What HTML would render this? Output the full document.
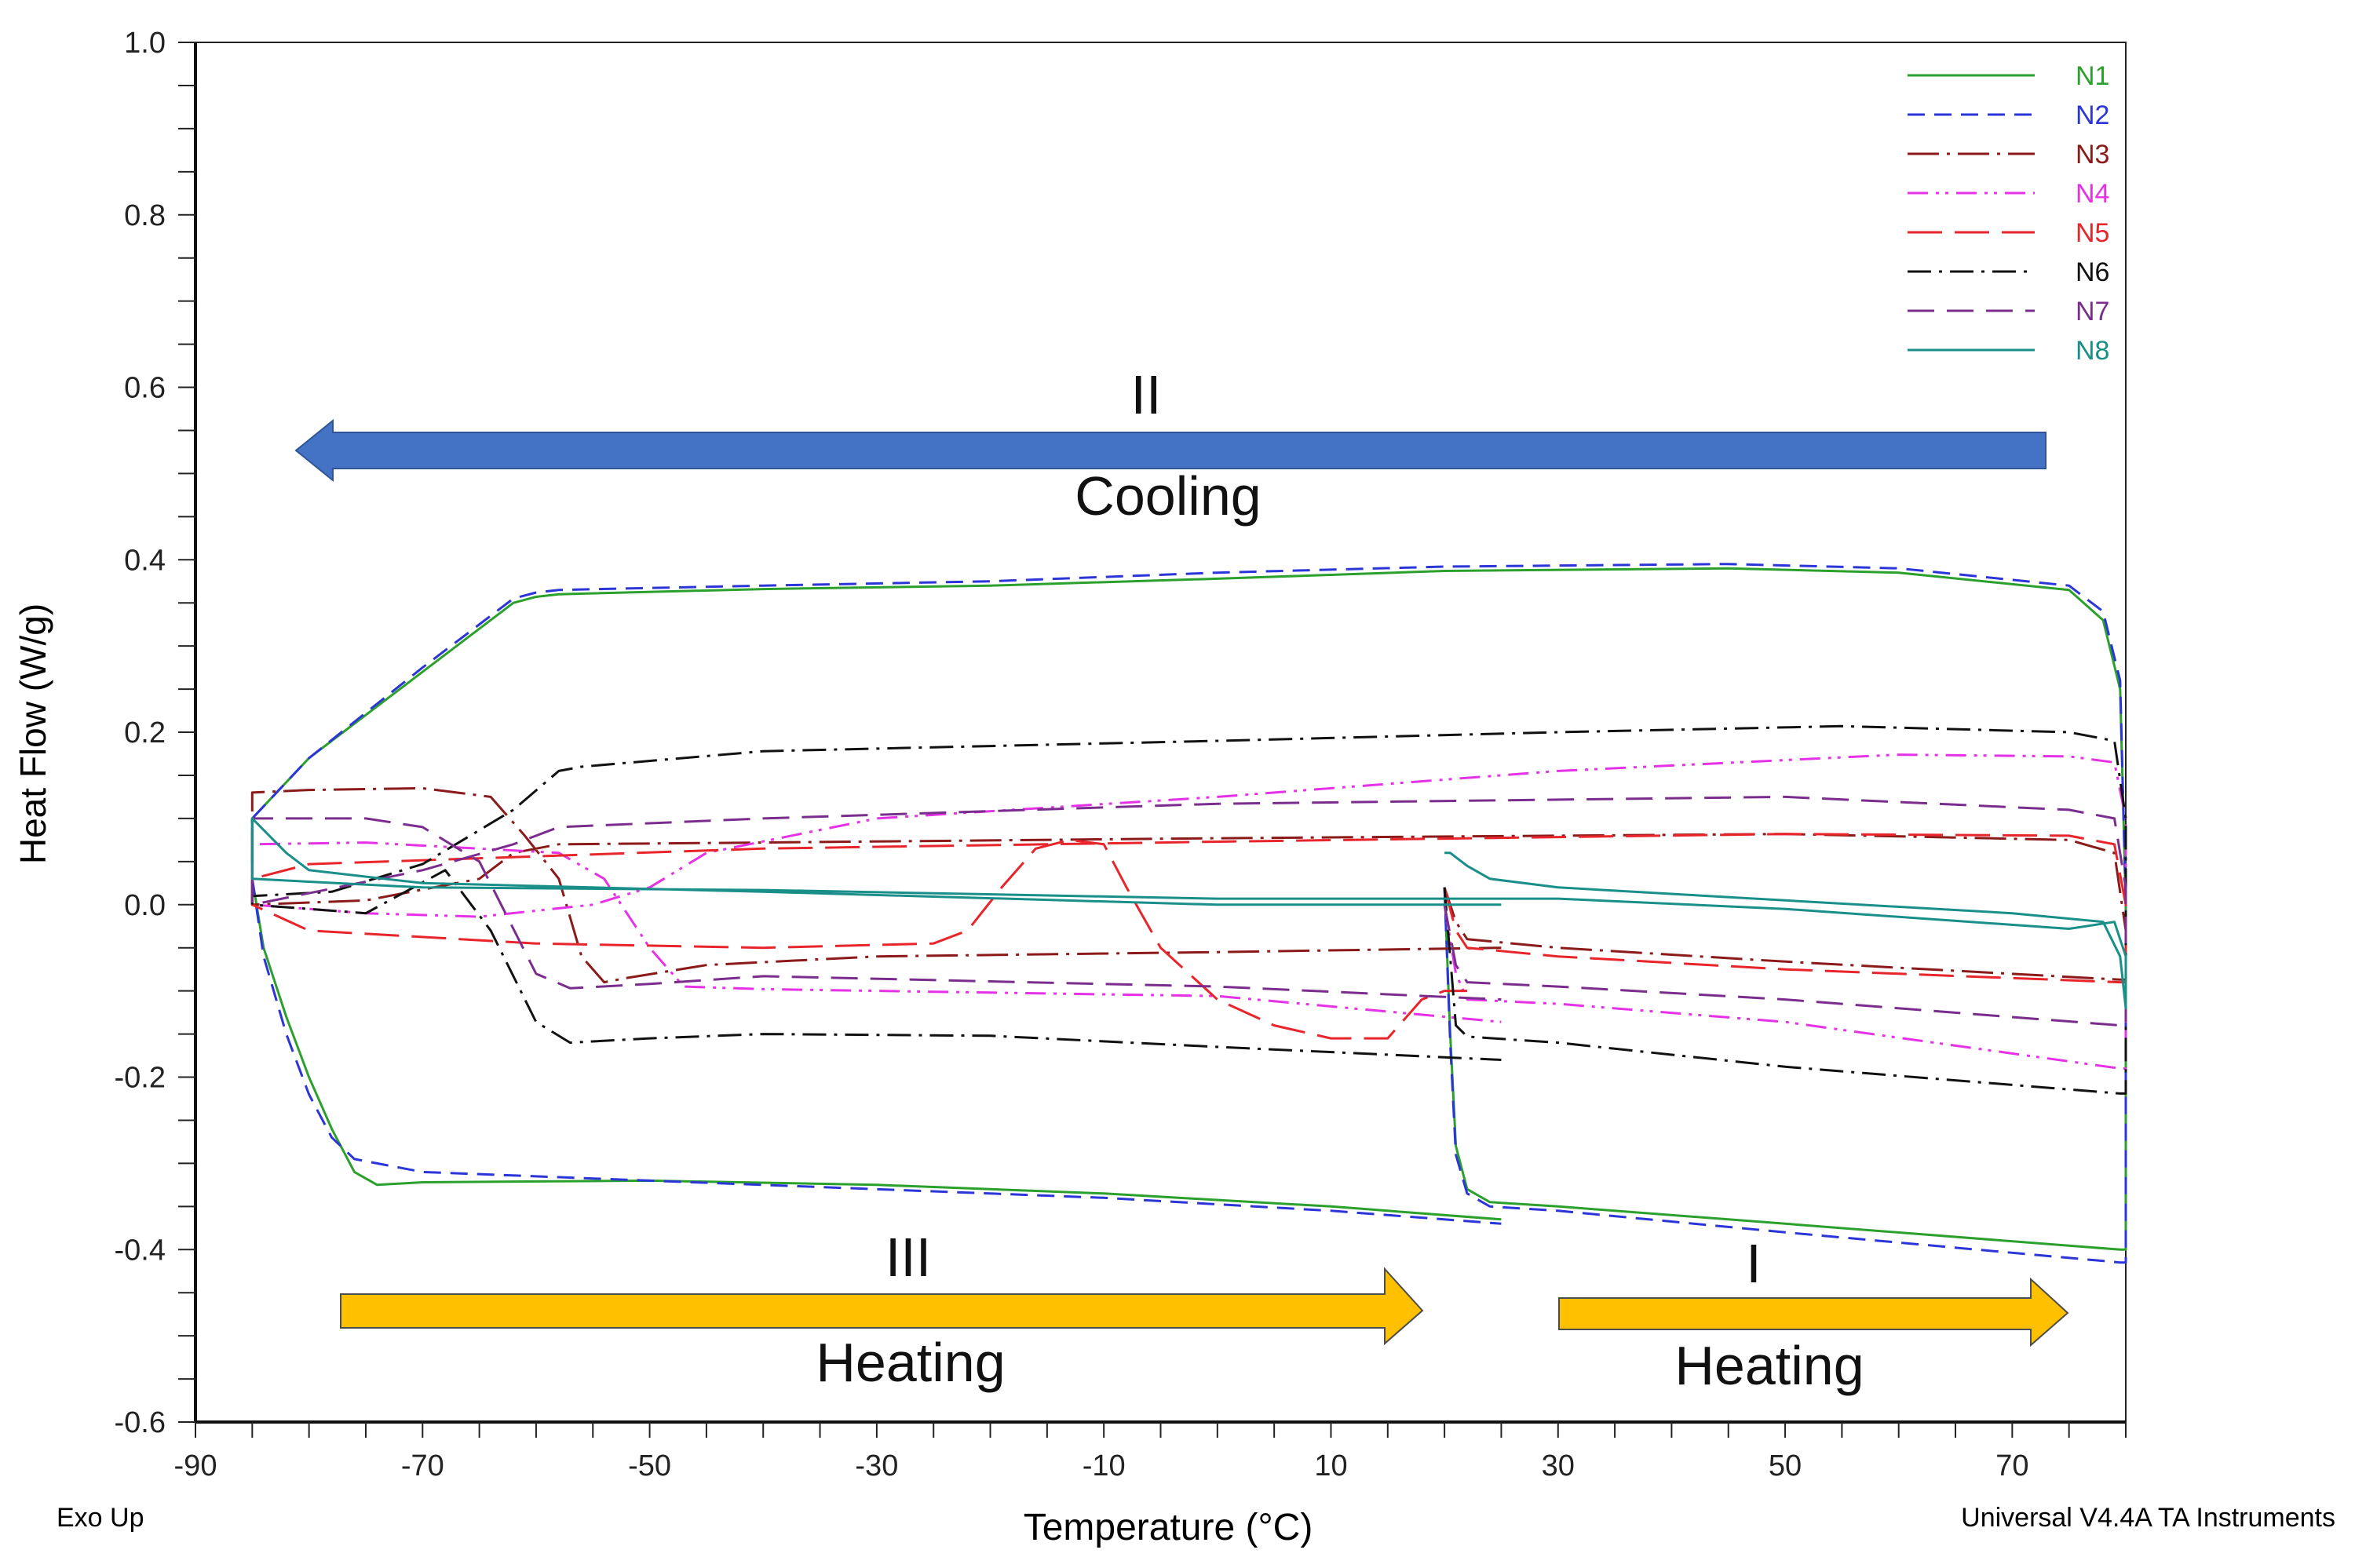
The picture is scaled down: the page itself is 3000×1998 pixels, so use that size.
<!DOCTYPE html>
<html><head><meta charset="utf-8"><style>
html,body{margin:0;padding:0;background:#fff}
svg{display:block}
text{font-family:"Liberation Sans",Arial,sans-serif}
</style></head><body>
<svg id="chart" width="3000" height="1998" viewBox="0 0 3000 1998" xmlns="http://www.w3.org/2000/svg">
<g id="axes"></g>
<g id="series"></g>
<g id="annotations"></g>
<g id="legend"></g>
<text x="0" y="0" font-size="46" transform="translate(58,935) rotate(-90)" text-anchor="middle">Heat Flow (W/g)</text>
<text x="1488" y="1962" font-size="48" text-anchor="middle">Temperature (°C)</text>
<text x="72" y="1945" font-size="34">Exo Up</text>
<text x="2975" y="1945" font-size="34" text-anchor="end">Universal V4.4A TA Instruments</text>
</svg>
<script>
const xTicks = [-90,-70,-50,-30,-10,10,30,50,70];
const yTicks = [1.0,0.8,0.6,0.4,0.2,0.0,-0.2,-0.4,-0.6];
const seriesNames = ["N1","N2","N3","N4","N5","N6","N7","N8"];
const seriesColors = ["#2ca02c","#2b35d8","#8b1a1a","#e632e6","#e8252b","#111111","#7b2d8e","#1a8f8a"];
const seriesDash = ["", "22,12", "40,10,4,10", "26,10,4,8,4,10", "44,16", "30,10,4,10", "34,16", ""];
// each series: temperature / heat-flow pairs, segments I (heat), II (cool), III (heat)
const N1_T = [20,20.5,21,22,24,30,50,79.5,80,80,79.5,78,75,60,45,20,0,-20,-40,-58,-60,-62,-70,-80,-85,-85,-84,-82,-80,-78,-76,-74,-70,-50,-30,-10,10,25];
const N1_H = [0.02,-0.15,-0.28,-0.33,-0.345,-0.35,-0.37,-0.40,-0.40,0.0,0.25,0.33,0.365,0.385,0.39,0.387,0.378,0.37,0.366,0.36,0.357,0.35,0.27,0.17,0.10,0.03,-0.05,-0.13,-0.20,-0.26,-0.31,-0.325,-0.322,-0.32,-0.325,-0.335,-0.35,-0.365];
const N2_T = [20,20.5,21,22,24,30,50,79.5,80,80,79.5,78,75,60,45,20,0,-20,-40,-58,-60,-62,-70,-80,-85,-85,-84,-82,-80,-78,-76,-74,-70,-50,-30,-10,10,25];
const N2_H = [0.02,-0.16,-0.29,-0.335,-0.35,-0.355,-0.38,-0.415,-0.415,0.0,0.26,0.34,0.37,0.39,0.395,0.392,0.385,0.375,0.37,0.365,0.362,0.355,0.275,0.17,0.10,0.03,-0.06,-0.15,-0.22,-0.27,-0.295,-0.30,-0.31,-0.32,-0.33,-0.34,-0.355,-0.37];
const N3_T = [20,21,22,30,50,79.5,80,80,79,75,50,0,-40,-58,-62,-65,-75,-85,-85,-80,-70,-64,-61,-58,-56,-54,-52,-45,-30,0,25];
const N3_H = [0.02,-0.02,-0.04,-0.05,-0.066,-0.087,-0.087,-0.03,0.06,0.075,0.082,0.077,0.072,0.07,0.06,0.03,0.005,0.0,0.13,0.133,0.135,0.125,0.08,0.03,-0.06,-0.09,-0.085,-0.07,-0.06,-0.055,-0.05];
const N4_T = [20,21,22,30,50,79.5,80,80,79,75,60,30,0,-30,-45,-50,-55,-65,-75,-85,-85,-75,-65,-58,-54,-50,-47,-40,0,25];
const N4_H = [0.0,-0.08,-0.11,-0.115,-0.136,-0.19,-0.19,0.1,0.165,0.172,0.174,0.155,0.125,0.1,0.06,0.02,0.0,-0.014,-0.01,0.0,0.07,0.072,0.065,0.06,0.03,-0.05,-0.095,-0.098,-0.106,-0.136];
const N5_T = [20,21,22,30,50,79.5,80,80,79,75,50,0,-40,-80,-85,-85,-80,-60,-40,-25,-22,-19,-16,-13,-10,-8,-5,0,5,10,15,18,20,22];
const N5_H = [0.02,-0.03,-0.05,-0.06,-0.075,-0.09,-0.09,0.0,0.07,0.08,0.082,0.073,0.065,0.047,0.03,0.0,-0.03,-0.045,-0.05,-0.045,-0.03,0.02,0.065,0.075,0.07,0.02,-0.05,-0.11,-0.14,-0.155,-0.155,-0.11,-0.1,-0.1];
const N6_T = [20,21,22,30,50,79.5,80,80,79,75,55,30,0,-40,-56,-58,-62,-70,-78,-85,-85,-80,-75,-68,-64,-60,-57,-50,-40,-20,0,25];
const N6_H = [0.02,-0.14,-0.153,-0.16,-0.188,-0.219,-0.219,0.1,0.19,0.2,0.207,0.2,0.19,0.178,0.16,0.155,0.11,0.047,0.015,0.01,0.0,-0.005,-0.01,0.04,-0.03,-0.136,-0.16,-0.155,-0.15,-0.152,-0.165,-0.18];
const N7_T = [20,21,22,30,50,79.5,80,80,79,75,50,0,-40,-58,-62,-70,-85,-85,-75,-70,-65,-60,-57,-50,-40,0,25];
const N7_H = [0.0,-0.07,-0.09,-0.095,-0.11,-0.14,-0.14,0.02,0.1,0.11,0.125,0.117,0.1,0.09,0.07,0.04,0.0,0.1,0.1,0.09,0.05,-0.08,-0.097,-0.092,-0.083,-0.095,-0.11];
const N8_T = [20,20.5,22,24,30,50,70,78,79.5,80,80,79,75,50,30,0,-40,-70,-85,-85,-82,-80,-70,-40,0,25];
const N8_H = [0.06,0.06,0.045,0.03,0.02,0.005,-0.01,-0.02,-0.06,-0.12,-0.06,-0.02,-0.028,-0.005,0.007,0.007,0.017,0.02,0.03,0.1,0.06,0.04,0.025,0.015,0.0,0.0];
const allT = [N1_T,N2_T,N3_T,N4_T,N5_T,N6_T,N7_T,N8_T];
const allH = [N1_H,N2_H,N3_H,N4_H,N5_H,N6_H,N7_H,N8_H];

const X0=249, X1=2708, Y0=54, Y1=1812;
function xS(t){return X0+(t+90)/170*(X1-X0);}
function yS(h){return Y1-(h+0.6)/1.6*(Y1-Y0);}
const NS="http://www.w3.org/2000/svg";
function mk(tag,attrs,parent){const e=document.createElementNS(NS,tag);for(const k in attrs)e.setAttribute(k,attrs[k]);parent.appendChild(e);return e;}

const ax=document.getElementById('axes');
const frame=mk('rect',{x:X0,y:Y0,width:X1-X0,height:Y1-Y0,fill:'none',stroke:'#222','stroke-width':2},ax);


mk('line',{x1:X0,y1:Y0,x2:X0,y2:Y1,stroke:'#111','stroke-width':4},ax);
mk('line',{x1:X0,y1:Y1,x2:X1,y2:Y1,stroke:'#111','stroke-width':4},ax);
for(let v=-0.6;v<=1.0001;v+=0.05){const y=yS(v);mk('line',{x1:X0-22,y1:y,x2:X0,y2:y,stroke:'#222','stroke-width':2},ax);}
for(let t=-90;t<=80.001;t+=5){const x=xS(t);mk('line',{x1:x,y1:Y1,x2:x,y2:Y1+20,stroke:'#222','stroke-width':2},ax);}
yTicks.forEach(v=>{
  const t=mk('text',{x:X0-38,y:yS(v)+13,'font-size':38,'text-anchor':'end',fill:'#222'},ax);
  t.textContent=v.toFixed(1);
  
  
});
xTicks.forEach(v=>{
  const t=mk('text',{x:xS(v),y:Y1+68,'font-size':38,'text-anchor':'middle',fill:'#222'},ax);
  t.textContent=String(v);
  
  
});

const sg=document.getElementById('series');
allT.forEach((T,i)=>{
  const H=allH[i];
  const d=T.map((t,j)=>(j?'L':'M')+xS(t).toFixed(1)+','+yS(H[j]).toFixed(1)).join(' ');
  const p=mk('path',{d:d,fill:'none',stroke:seriesColors[i],'stroke-width':3,'stroke-linejoin':'round'},sg);
  if(seriesDash[i])p.setAttribute('stroke-dasharray',seriesDash[i]);
  
  
});

const an=document.getElementById('annotations');
// blue cooling arrow
const ba=mk('polygon',{points:'2606,551 424,551 424,536 377,574 424,612 424,597 2606,597',fill:'#4472C4',stroke:'#2f5597','stroke-width':2},an);


const ya=mk('polygon',{points:'434,1649 1764,1649 1764,1617 1812,1670 1764,1712 1764,1692 434,1692',fill:'#FFC000',stroke:'#4d4d4d','stroke-width':2},an);


const yb=mk('polygon',{points:'1986,1654 2587,1654 2587,1630 2634,1673 2587,1714 2587,1694 1986,1694',fill:'#FFC000',stroke:'#4d4d4d','stroke-width':2},an);


const labels=[['II',1460,527,'stage-ii-label'],['Cooling',1488,656,'cooling-label'],['III',1157,1626,'stage-iii-label'],['Heating',1160,1760,'heating-iii-label'],['I',2234,1634,'stage-i-label'],['Heating',2254,1764,'heating-i-label']];
labels.forEach(l=>{
  const t=mk('text',{x:l[1],y:l[2],'font-size':70,'text-anchor':'middle',fill:'#111'},an);
  t.textContent=l[0];
  
  
});

const lg=document.getElementById('legend');
const rowY=[96,146,196,246,296,346,396,446];
seriesNames.forEach((n,i)=>{
  const g=mk('g',{},lg);
  
  
  const ln=mk('line',{x1:2430,y1:rowY[i],x2:2592,y2:rowY[i],stroke:seriesColors[i],'stroke-width':3},g);
  if(seriesDash[i])ln.setAttribute('stroke-dasharray',seriesDash[i]);
  const t=mk('text',{x:2644,y:rowY[i]+12,'font-size':34,fill:seriesColors[i]},g);
  t.textContent=n;
});
</script>
</body></html>
